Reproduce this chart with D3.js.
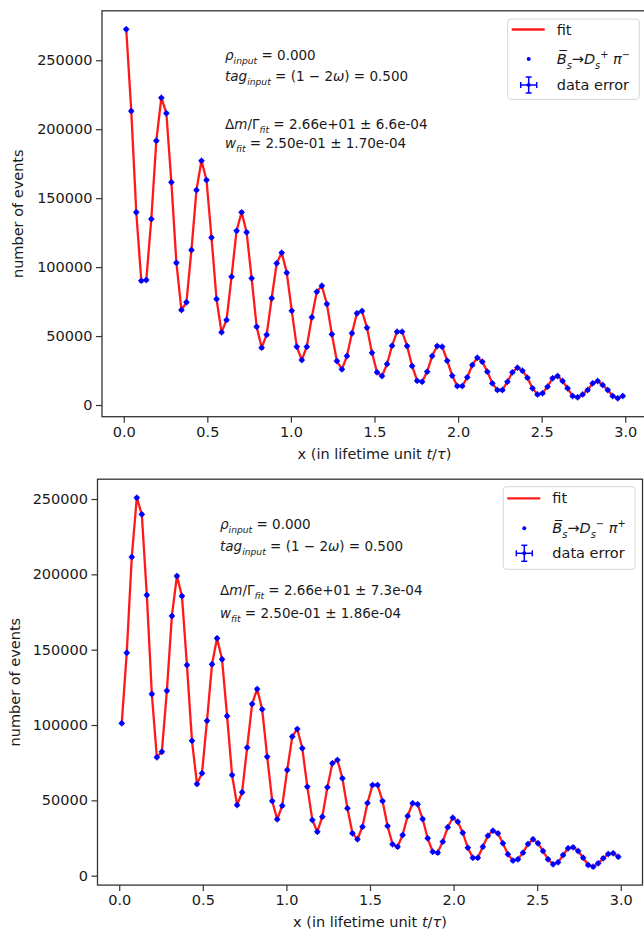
<!DOCTYPE html>
<html>
<head>
<meta charset="utf-8">
<script src="https://cdn.jsdelivr.net/npm/d3@7"></script>
<style>
  body { margin: 0; background: #fff; }
  svg text { font-family: "DejaVu Sans", sans-serif; fill: #1a1a1a; }
</style>
</head>
<body>
<svg id="chart" width="644" height="938"></svg>
<script>
// bin centres (lifetime units)
const xBins = [
  0.015, 0.045, 0.075, 0.105, 0.135, 0.165, 0.195, 0.225, 0.255, 0.285,
  0.315, 0.345, 0.375, 0.405, 0.435, 0.465, 0.495, 0.525, 0.555, 0.585,
  0.615, 0.645, 0.675, 0.705, 0.735, 0.765, 0.795, 0.825, 0.855, 0.885,
  0.915, 0.945, 0.975, 1.005, 1.035, 1.065, 1.095, 1.125, 1.155, 1.185,
  1.215, 1.245, 1.275, 1.305, 1.335, 1.365, 1.395, 1.425, 1.455, 1.485,
  1.515, 1.545, 1.575, 1.605, 1.635, 1.665, 1.695, 1.725, 1.755, 1.785,
  1.815, 1.845, 1.875, 1.905, 1.935, 1.965, 1.995, 2.025, 2.055, 2.085,
  2.115, 2.145, 2.175, 2.205, 2.235, 2.265, 2.295, 2.325, 2.355, 2.385,
  2.415, 2.445, 2.475, 2.505, 2.535, 2.565, 2.595, 2.625, 2.655, 2.685,
  2.715, 2.745, 2.775, 2.805, 2.835, 2.865, 2.895, 2.925, 2.955, 2.985
];
const binHalfWidth = 0.015;

// Bs-bar -> Ds+ pi-
const eventsTop = [
  272500, 213200, 139800, 90200, 90700, 134900, 191700, 222900, 211600, 161500,
  103200, 68900, 74500, 112400, 155900, 177200, 163200, 121400, 76900, 52700,
  61700, 93100, 126400, 139700, 125300, 91900, 56800, 41600, 51000, 77400,
  102800, 110500, 96000, 68400, 42300, 32600, 42300, 63600, 82200, 86500,
  73300, 51300, 31900, 25900, 35500, 52000, 66500, 68200, 56100, 37900,
  23700, 21000, 29700, 43000, 53200, 53200, 42800, 28300, 17600, 16900,
  24200, 35500, 42800, 42300, 32100, 21300, 13800, 13800, 20100, 29000,
  34300, 31400, 24200, 15700, 10900, 10900, 16900, 23700, 27100, 24900,
  19800, 12100, 7700, 8500, 13300, 19400, 21000, 17400, 12100, 6500,
  5600, 7700, 10900, 15700, 17400, 14500, 10900, 6500, 4900, 6500
];

// Bs-bar -> Ds- pi+
const eventsBottom = [
  101100, 148000, 211500, 250900, 239800, 186300, 120600, 78600, 82300, 122800,
  172400, 198900, 185600, 139800, 89600, 60900, 68000, 102900, 140300, 157600,
  143600, 106000, 66800, 46900, 55400, 85000, 114000, 123900, 110400, 79000,
  49600, 37400, 46500, 70200, 92300, 97400, 84600, 59100, 37000, 29200,
  39200, 58700, 74600, 76800, 64600, 44700, 28100, 24200, 32500, 48200,
  60200, 60200, 49600, 33000, 20800, 19200, 27000, 39600, 48100, 47400,
  37600, 24800, 15900, 15300, 22600, 32100, 38500, 35800, 28500, 18600,
  11900, 11900, 19200, 26500, 29900, 28100, 21500, 14200, 10000, 10900,
  15300, 21000, 24200, 21500, 16400, 10900, 7600, 8900, 13700, 18200,
  18800, 16400, 11900, 7100, 6000, 8200, 11500, 14400, 14900, 12600
];

const xTickValues = [0, 0.5, 1.0, 1.5, 2.0, 2.5, 3.0];
const yTickValues = [0, 50000, 100000, 150000, 200000, 250000];

const fitTextTop = [
  [["ρ", "i"], ["input", "i sub"], [" = 0.000", ""]],
  [["tag", "i"], ["input", "i sub"], [" = (1 − 2", ""], ["ω", "i"], [") = 0.500", ""]],
  [["Δ", ""], ["m", "i"], ["/Γ", ""], ["fit", "i sub"], [" = 2.66e+01 ± 6.6e-04", ""]],
  [["w", "i"], ["fit", "i sub"], [" = 2.50e-01 ± 1.70e-04", ""]]
];
const fitTextBottom = [
  [["ρ", "i"], ["input", "i sub"], [" = 0.000", ""]],
  [["tag", "i"], ["input", "i sub"], [" = (1 − 2", ""], ["ω", "i"], [") = 0.500", ""]],
  [["Δ", ""], ["m", "i"], ["/Γ", ""], ["fit", "i sub"], [" = 2.66e+01 ± 7.3e-04", ""]],
  [["w", "i"], ["fit", "i sub"], [" = 2.50e-01 ± 1.86e-04", ""]]
];
const channelTop = [["B\u0305", "i"], ["s", "i sub"], ["→", ""], ["D", "i"], ["s", "i sub"], ["+", "sup"], [" π", "i"], ["−", "sup"]];
const channelBottom = [["B\u0305", "i"], ["s", "i sub"], ["→", ""], ["D", "i"], ["s", "i sub"], ["−", "sup"], [" π", "i"], ["+", "sup"]];

const svg = d3.select("#chart");

function richText(g, x, y, parts, size) {
  const t = g.append("text").attr("x", x).attr("y", y).style("font-size", size + "px");
  let shift = 0;
  parts.forEach(([s, k]) => {
    const flags = k.split(" ");
    const sp = t.append("tspan").text(s);
    let target = 0;
    if (flags.includes("sub")) target = 0.32 * size;
    if (flags.includes("sup")) target = -0.42 * size;
    sp.attr("dy", target - shift);
    shift = target;
    if (target !== 0) sp.style("font-size", (size * 0.68) + "px");
    if (flags.includes("i")) sp.style("font-style", "italic");
  });
  return t;
}

function drawPanel(p) {
  const g = svg.append("g");
  const x = d3.scaleLinear().domain([-0.13, 3.13]).range([p.left, p.right]);
  const ext = d3.extent(p.values);
  const pad = (ext[1] - ext[0]) * 0.05;
  const y = d3.scaleLinear().domain([ext[0] - pad, ext[1] + pad]).range([p.bottom, p.top]);
  const pts = xBins.map((b, i) => [b, p.values[i]]);

  g.append("g")
    .attr("transform", "translate(0," + p.bottom + ")")
    .call(d3.axisBottom(x).tickValues(xTickValues).tickFormat(d3.format(".1f")).tickSize(6).tickPadding(4))
    .call(a => a.select(".domain").remove())
    .call(a => a.selectAll("line").attr("stroke", "#333").attr("stroke-width", 1.2))
    .call(a => a.selectAll("text").style("font-size", "14.5px").attr("fill", "#1a1a1a"));

  g.append("g")
    .attr("transform", "translate(" + p.left + ",0)")
    .call(d3.axisLeft(y).tickValues(yTickValues).tickFormat(d3.format("d")).tickSize(6).tickPadding(3.5))
    .call(a => a.select(".domain").remove())
    .call(a => a.selectAll("line").attr("stroke", "#333").attr("stroke-width", 1.2))
    .call(a => a.selectAll("text").style("font-size", "14.5px").attr("fill", "#1a1a1a"));

  // fit curve
  g.append("path")
    .datum(pts)
    .attr("fill", "none")
    .attr("stroke", "#ff1a1a")
    .attr("stroke-width", 2.3)
    .attr("stroke-linejoin", "round")
    .attr("d", d3.line().x(d => x(d[0])).y(d => y(d[1])));

  // data points with x error bars
  const mk = g.append("g").attr("stroke", "#0000ff").attr("stroke-width", 1.1);
  pts.forEach(d => {
    const cx = x(d[0]), cy = y(d[1]);
    const x0 = x(d[0] - binHalfWidth), x1 = x(d[0] + binHalfWidth);
    mk.append("line").attr("x1", x0 - 0.6).attr("x2", x1 + 0.6).attr("y1", cy).attr("y2", cy);
    mk.append("line").attr("x1", cx).attr("x2", cx).attr("y1", cy - 3.2).attr("y2", cy + 3.2);
    mk.append("circle").attr("cx", cx).attr("cy", cy).attr("r", 2.5).attr("fill", "#0000ff").attr("stroke", "none");
  });

  // frame
  g.append("rect")
    .attr("x", p.left).attr("y", p.top)
    .attr("width", p.right - p.left).attr("height", p.bottom - p.top)
    .attr("fill", "none").attr("stroke", "#333").attr("stroke-width", 1.3);

  // axis labels
  const xl = g.append("text")
    .attr("x", (p.left + p.right) / 2).attr("y", p.bottom + 42)
    .attr("text-anchor", "middle").style("font-size", "14.5px");
  xl.append("tspan").text("x (in lifetime unit ");
  xl.append("tspan").text("t").style("font-style", "italic");
  xl.append("tspan").text("/");
  xl.append("tspan").text("τ").style("font-style", "italic");
  xl.append("tspan").text(")");

  g.append("text")
    .attr("transform", "translate(" + p.ylabelX + "," + (p.top + p.bottom) / 2 + ") rotate(-90)")
    .attr("text-anchor", "middle").style("font-size", "14.5px")
    .text("number of events");

  // fit results
  p.fitText.forEach((line, i) => richText(g, p.textX, p.textY[i], line, 13.5));

  // legend
  const L = p.legend;
  g.append("rect")
    .attr("x", L.x).attr("y", L.y).attr("width", L.w).attr("height", L.h)
    .attr("rx", 3).attr("fill", "#fff").attr("stroke", "#d6d6d6").attr("stroke-width", 1);
  g.append("line")
    .attr("x1", L.x + 4).attr("x2", L.x + 37).attr("y1", L.rows[0]).attr("y2", L.rows[0])
    .attr("stroke", "#ff1a1a").attr("stroke-width", 2.3);
  g.append("circle").attr("cx", L.x + 21).attr("cy", L.rows[1]).attr("r", 2).attr("fill", "#0000ff");
  const eb = g.append("g").attr("stroke", "#0000ff").attr("stroke-width", 1.5);
  const ex = L.x + 21, ey = L.rows[2];
  eb.append("line").attr("x1", ex - 8).attr("x2", ex + 8).attr("y1", ey).attr("y2", ey);
  eb.append("line").attr("x1", ex).attr("x2", ex).attr("y1", ey - 8).attr("y2", ey + 8);
  eb.append("line").attr("x1", ex - 8).attr("x2", ex - 8).attr("y1", ey - 3).attr("y2", ey + 3);
  eb.append("line").attr("x1", ex + 8).attr("x2", ex + 8).attr("y1", ey - 3).attr("y2", ey + 3);
  eb.append("line").attr("x1", ex - 3).attr("x2", ex + 3).attr("y1", ey - 8).attr("y2", ey - 8);
  eb.append("line").attr("x1", ex - 3).attr("x2", ex + 3).attr("y1", ey + 8).attr("y2", ey + 8);
  eb.append("circle").attr("cx", ex).attr("cy", ey).attr("r", 2).attr("fill", "#0000ff").attr("stroke", "none");

  g.append("text").attr("x", L.x + 49).attr("y", L.rows[0] + 5).style("font-size", "14.5px").text("fit");
  richText(g, L.x + 49, L.rows[1] + 5, p.channel, 14.5);
  g.append("text").attr("x", L.x + 49).attr("y", L.rows[2] + 5).style("font-size", "14.5px").text("data error");
}

drawPanel({
  values: eventsTop, left: 102, right: 647, top: 10.8, bottom: 416.7, ylabelX: 23,
  fitText: fitTextTop, textX: 225, textY: [60, 81, 129, 148],
  channel: channelTop,
  legend: { x: 507.7, y: 19, w: 131.6, h: 80.3, rows: [29.5, 59, 85] }
});

drawPanel({
  values: eventsBottom, left: 97.5, right: 642.5, top: 479.2, bottom: 885.1, ylabelX: 20,
  fitText: fitTextBottom, textX: 220, textY: [529, 551, 595, 618],
  channel: channelBottom,
  legend: { x: 503.3, y: 486.7, w: 131.7, h: 82.6, rows: [498.3, 528.3, 553.3] }
});
</script>
</body>
</html>
